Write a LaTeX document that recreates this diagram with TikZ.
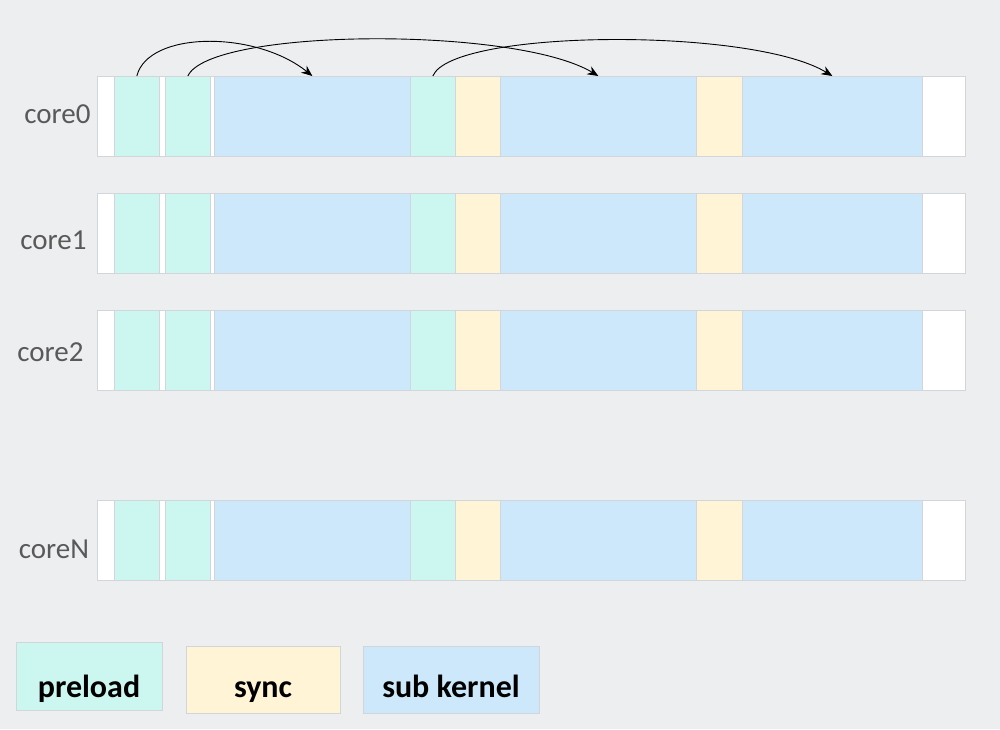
\documentclass[tikz,border=0pt]{standalone}
\usepackage{fontspec}
\setmainfont{Carlito}
\usetikzlibrary{arrows.meta}
\definecolor{bgc}{HTML}{EDEEF0}
\definecolor{prec}{HTML}{CCF7F0}
\definecolor{sync}{HTML}{FFF5D6}
\definecolor{kerc}{HTML}{CCE8FA}
\definecolor{edgec}{HTML}{D2D6DA}
\definecolor{labc}{HTML}{595959}
\tikzset{
  seg/.style={draw=edgec, line width=0.7pt, inner sep=0pt, anchor=north west, minimum height=80pt},
  bar/.style={seg, fill=white},
  preload/.style={seg, fill=prec},
  syncbox/.style={seg, fill=sync},
  kernel/.style={seg, fill=kerc},
  corelab/.style={text=labc, font=\fontsize{29}{32}\selectfont, inner sep=0pt},
  legbox/.style={draw=edgec, line width=0.7pt, inner sep=0pt, anchor=north west, minimum height=67pt, font=\bfseries\fontsize{32}{36}\selectfont},
  link/.style={line width=0.9pt, -{Stealth[length=11pt,width=9pt]}}
}
\begin{document}
\begin{tikzpicture}[x=1pt,y=-1pt]
\fill[bgc] (0,0) rectangle (1000,729);
\useasboundingbox (0,0) rectangle (1000,729);
\foreach \r/\y/\lx/\ly/\lab in {0/76/57.5/114/core0, 1/193/53.5/240/core1, 2/310/50.5/352/core2, N/500/54/549/coreN}{
  \node[bar, minimum width=868pt] (c\r-bar) at (97,\y) {};
  \foreach \n/\a/\w/\s in {p1/114/45/preload, p2/165/45/preload, k1/214/196/kernel, p3/410/45/preload, s1/455/45/syncbox, k2/500/196/kernel, s2/696/46/syncbox, k3/742/180/kernel}{
    \node[\s, minimum width=\w pt] (c\r-\n) at (\a,\y) {};
  }
  \node[corelab] (lab\r) at (\lx,\ly) {\lab};
}
% arrows on core0
\draw[link] (c0-p1.north) .. controls (148,31) and (255,30) .. (c0-k1.north);
\draw[link] (c0-p2.north) .. controls (210,28) and (515,26) .. (c0-k2.north);
\draw[link] (c0-p3.north) .. controls (452,29) and (752,27) .. (c0-k3.north);
% legend
\node[legbox, fill=prec, minimum width=146pt, minimum height=68pt] (legp) at (16,642) {};
\node[font=\bfseries\fontsize{32}{36}\selectfont, inner sep=0pt, anchor=base] (legpt) at (89,697) {preload};
\node[legbox, fill=sync, minimum width=154pt] (legs) at (186,646) {};
\node[font=\bfseries\fontsize{32}{36}\selectfont, inner sep=0pt, anchor=base] (legst) at (263,697) {sync};
\node[legbox, fill=kerc, minimum width=176pt] (legk) at (363,646) {};
\node[font=\bfseries\fontsize{32}{36}\selectfont, inner sep=0pt, anchor=base] (legkt) at (451,697) {sub kernel};
\end{tikzpicture}
\end{document}
